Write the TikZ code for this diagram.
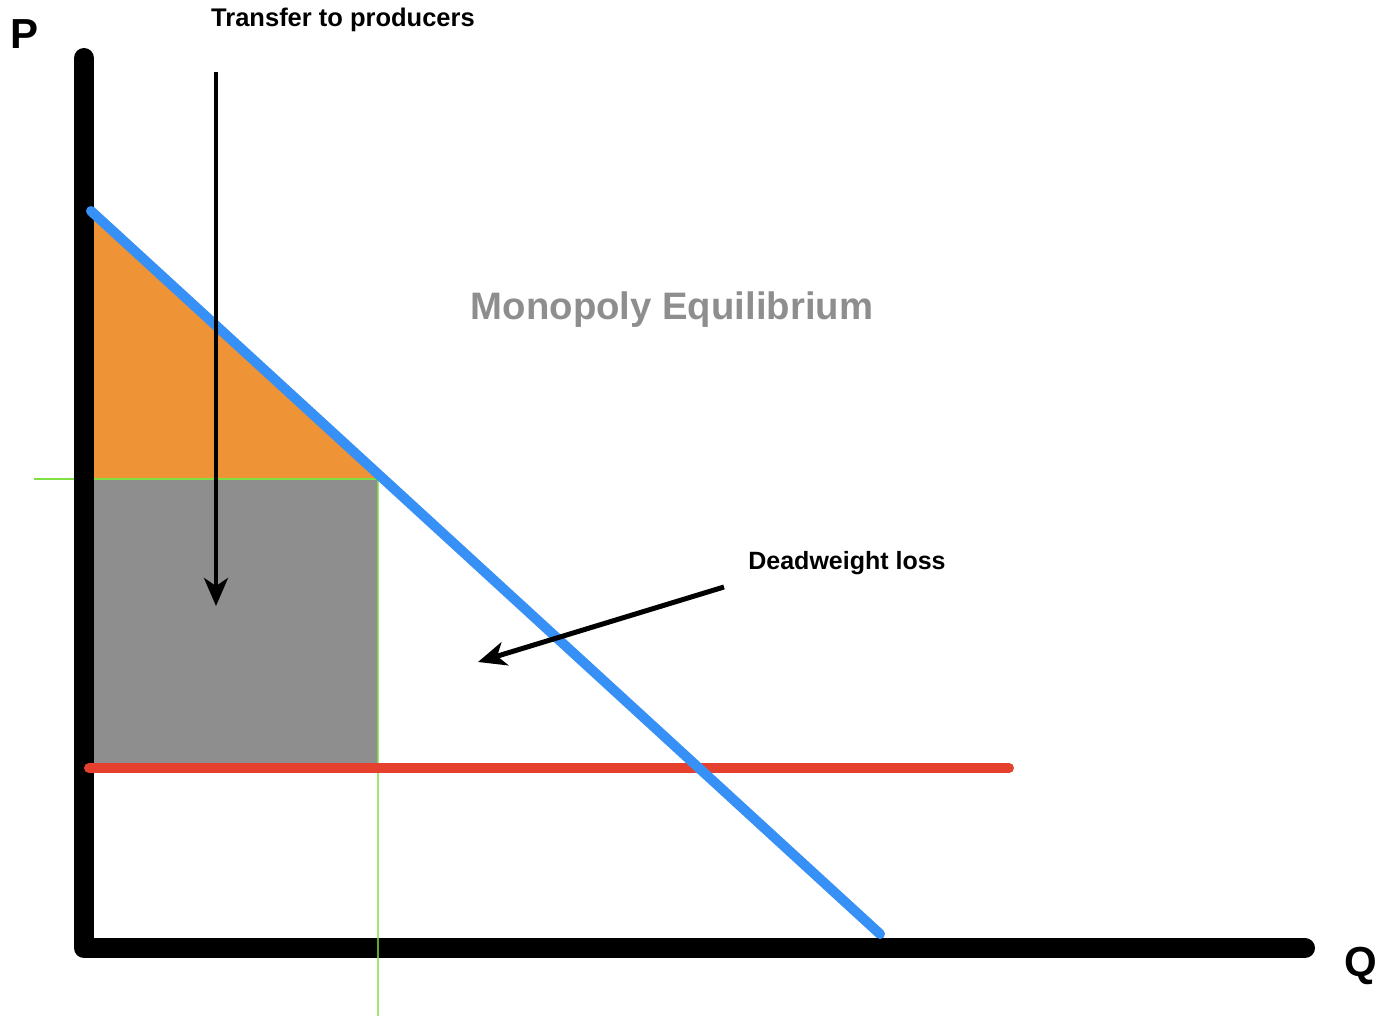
\documentclass[tikz,border=0pt]{standalone}
\usepackage{fontspec}
\setmainfont{Liberation Sans}
\usetikzlibrary{arrows.meta}
\definecolor{demandblue}{HTML}{3790F5}
\definecolor{surplusorange}{HTML}{EE9336}
\definecolor{transfergray}{HTML}{8E8E8E}
\definecolor{mcred}{HTML}{E5402E}
\definecolor{priceg}{HTML}{7EE043}
\definecolor{titlegray}{HTML}{8E8E8E}
\begin{document}
\begin{tikzpicture}[x=1pt,y=-1pt,
  axisline/.style={line width=20pt,line cap=round,line join=round,black},
  curve/.style={line width=10pt,line cap=round},
  guide/.style={line width=2.5pt,priceg},
  pointer/.style={line width=4pt,black,-{Stealth[length=28pt,width=24pt,inset=8pt]}},
  lbl/.style={font=\bfseries\fontsize{25.5}{28}\selectfont,inner sep=0pt},
  axlbl/.style={font=\bfseries\fontsize{42}{46}\selectfont,inner sep=0pt}]
\useasboundingbox (0,0) rectangle (1378,1016);
% coordinates
\coordinate (ytop) at (84,58);
\coordinate (origin) at (84,948);
\coordinate (xend) at (1305,948);
\coordinate (dtop) at (91,211);
\coordinate (dbot) at (880,934);
\coordinate (pm) at (378,479);
\coordinate (pl) at (34,479);
\coordinate (pa) at (92,479);
\coordinate (ca) at (92,768);
\coordinate (cm) at (378,768);
\coordinate (qbot) at (378,1016);
\coordinate (mcl) at (89,768);
\coordinate (mcr) at (1009,768);
% areas
\fill[surplusorange] (92,218) -- (pa) -- (pm) -- cycle;
\fill[transfergray] (pa) rectangle (cm);
% guide (horizontal part under the axis)
\draw[guide] (pl) -- (pm);
% axes
\draw[axisline] (ytop) -- (origin) -- (xend);
% guide (vertical part over the axis)
\draw[guide,opacity=0.75] (pm) -- (qbot);
% curves
\draw[curve,mcred] (mcl) -- (mcr);
\draw[curve,demandblue] (dtop) -- (dbot);
% labels
\node[axlbl] (P) at (25,34) {P};
\node[axlbl] (Q) at (1361,966) {Q};
\node[lbl] (transfer) at (343,20) {Transfer to producers};
\node[lbl,font=\bfseries\fontsize{25}{28}\selectfont] (dwl) at (847,563) {Deadweight loss};
\node[font=\bfseries\fontsize{38.3}{42}\selectfont,text=titlegray,inner sep=0pt] (title) at (672,310) {Monopoly Equilibrium};
% arrows
\coordinate (tstart) at (216,72);
\coordinate (tend) at (216,606);
\coordinate (dstart) at (724,587);
\coordinate (dend) at (478,662);
\draw[pointer] (tstart) -- (tend);
\draw[pointer,line width=5pt] (dstart) -- (dend);
\end{tikzpicture}
\end{document}
